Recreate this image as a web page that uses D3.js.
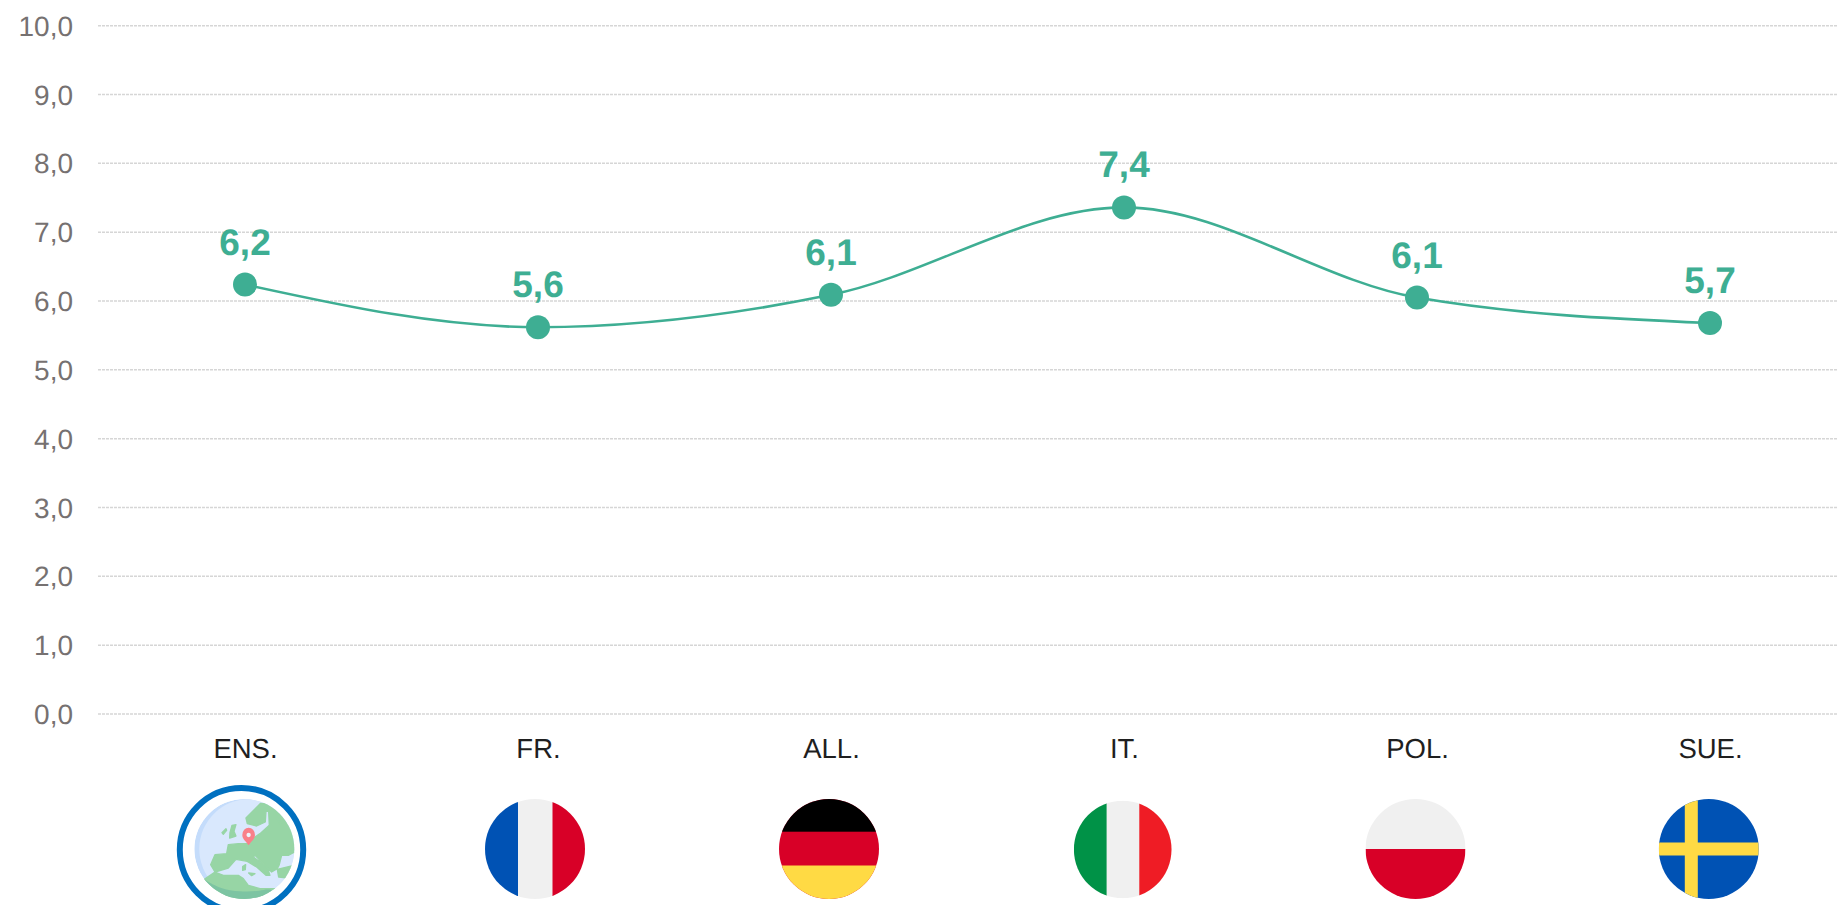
<!DOCTYPE html>
<html><head><meta charset="utf-8">
<script src="https://cdn.jsdelivr.net/npm/d3@7"></script>
<style>html,body{margin:0;padding:0;background:#fff;overflow:hidden}svg{display:block}text{font-family:"Liberation Sans",Arial,sans-serif;text-rendering:geometricPrecision}</style>
</head><body><svg id="c" width="1837" height="905"></svg>
<script>
const categories = ["ENS.","FR.","ALL.","IT.","POL.","SUE."];
const values = [6.24,5.62,6.09,7.36,6.05,5.68];
const valueLabels = ["6,2","5,6","6,1","7,4","6,1","5,7"];
const yTicks = [0,1,2,3,4,5,6,7,8,9,10];
const green = "#3eae93";

(function(){
const svg = d3.select("#c");
const W = 1837, plotLeft = 98, plotTop = 25.7, plotBottom = 714;
const x = d3.scalePoint().domain(categories).range([245,1710]);
const y = d3.scaleLinear().domain([0,10]).range([plotBottom,plotTop]);

// gridlines + y tick labels
const yAxis = d3.axisLeft(y).tickValues(yTicks).tickSize(0).tickPadding(0)
  .tickFormat(d => d3.format(".1f")(d).replace(".",","));
const gy = svg.append("g").attr("transform",`translate(73,0)`).call(yAxis);
gy.select(".domain").remove();
gy.selectAll("text").attr("font-size",28).attr("fill","#767171")
  .style("font-family",'"Liberation Sans",Arial,sans-serif').attr("dy","0.34em");
svg.append("g").selectAll("line").data(yTicks).join("line")
  .attr("x1",plotLeft).attr("x2",W).attr("y1",d=>y(d)).attr("y2",d=>y(d))
  .attr("stroke","#d6d6d6").attr("stroke-width",1.5).attr("stroke-dasharray","3 1");

// line
const line = d3.line().x((d,i)=>x(categories[i])).y(d=>y(d)).curve(d3.curveMonotoneX);
svg.append("path").attr("d",line(values)).attr("fill","none").attr("stroke",green).attr("stroke-width",2.6);
svg.append("g").selectAll("circle").data(values).join("circle")
  .attr("cx",(d,i)=>x(categories[i])).attr("cy",d=>y(d)).attr("r",12).attr("fill",green);
svg.append("g").selectAll("text").data(values).join("text")
  .attr("x",(d,i)=>x(categories[i])).attr("y",d=>y(d)-30)
  .attr("text-anchor","middle").attr("font-size",37).attr("font-weight","bold").attr("fill",green)
  .text((d,i)=>valueLabels[i]);

// category labels
const xAxis = d3.axisBottom(x).tickSize(0).tickPadding(0);
const gx = svg.append("g").attr("transform","translate(0,738)").call(xAxis);
gx.select(".domain").remove();
gx.selectAll("text").attr("font-size",27.5).attr("fill","#1f1f1f")
  .style("font-family",'"Liberation Sans",Arial,sans-serif').attr("dy","0.71em");

// flags
const defs = svg.append("defs");
function flag(id,cx,cy,r,draw){
  defs.append("clipPath").attr("id",id).append("circle").attr("cx",cx).attr("cy",cy).attr("r",r);
  const g = svg.append("g").attr("clip-path",`url(#${id})`);
  const rect=(fx,fy,fw,fh,c)=>g.append("rect").attr("x",cx-r+fx*2*r).attr("y",cy-r+fy*2*r)
    .attr("width",fw*2*r).attr("height",fh*2*r).attr("fill",c);
  draw(rect);
}
const FR_BLUE="#0052b4",RED="#d80027",WHITE="#f0f0f0",YEL="#ffda44";
flag("fr",535,849,50,r=>{r(0,0,1,1,WHITE);r(0,0,.33,1,FR_BLUE);r(.675,0,.33,1,RED);});
flag("de",829,849,50,r=>{r(0,0,1,1,RED);r(0,0,1,.327,"#000");r(0,.665,1,.34,YEL);});
flag("it",1122.7,849.5,48.8,r=>{r(0,0,1,1,WHITE);r(0,0,.335,1,"#009247");r(.67,0,.335,1,"#ef1c25");});
flag("pl",1415.5,849,50,r=>{r(0,0,1,.5,WHITE);r(0,.5,1,.5,RED);});
flag("se",1708.8,849,50,r=>{r(0,0,1,1,FR_BLUE);r(.26,0,.13,1,YEL);r(0,.435,1,.13,YEL);});

// Europe globe + ring
svg.append("circle").attr("cx",241.5).attr("cy",849.7).attr("r",61.7).attr("fill","none").attr("stroke","#0070c0").attr("stroke-width",6);
defs.append("clipPath").attr("id","gl").append("circle").attr("cx",0).attr("cy",0).attr("r",150);
const glob = svg.append("g").attr("transform","translate(244.3,849) scale(0.3333)").append("g").attr("clip-path","url(#gl)");
glob.append("circle").attr("r",150).attr("fill","#c4dcfb");
glob.append("circle").attr("cx",15).attr("r",150).attr("fill","#d9e8fd");
const P=(pts,fill)=>glob.append("path").attr("fill",fill).attr("stroke",fill).attr("stroke-width",4).attr("stroke-linejoin","round")
  .attr("d",d3.line().curve(d3.curveLinearClosed)(pts.map(p=>[p[0]-253,p[1]-221])));
const LAND="#97d5a5";
P([[302,84],[258,128],[262,145],[290,152],[316,140],[318,108],[326,108],[328,150],[300,175],[285,185],[270,205],[235,205],[205,208],[200,235],[165,238],[152,268],[165,290],[205,278],[228,252],[262,258],[290,275],[318,300],[330,300],[322,275],[280,245],[285,240],[335,290],[352,280],[358,268],[365,240],[385,240],[400,232],[420,232],[420,150],[380,90]],LAND);
P([[352,282],[395,272],[420,270],[420,312],[356,305]],LAND);
P([[100,340],[133,312],[165,290],[190,300],[235,300],[250,310],[265,330],[300,340],[345,340],[345,400],[100,400]],LAND);
P([[186,172],[198,160],[200,165],[190,177]],LAND);
P([[216,150],[228,148],[222,168],[228,182],[209,188],[210,172]],LAND);
P([[248,274],[257,268],[256,283],[248,285]],LAND);
P([[266,293],[285,295],[275,301]],LAND);
P([[352,133],[358,132],[365,143],[360,146]],LAND);
glob.append("path").attr("fill","#7cc4a2").attr("d",d3.line().curve(d3.curveBasis)([[133,312],[180,340],[240,350],[300,348],[345,335],[345,400],[100,400],[133,312]].map(p=>[p[0]-253,p[1]-221])));
const pin = glob.append("g").attr("transform",`translate(${266-253},${183-221})`);
pin.append("path").attr("fill","#f9808a").attr("d","M0,27 C-8,15 -19,8 -19,-4 A19,22 0 1 1 19,-4 C19,8 8,15 0,27Z");
pin.append("circle").attr("cy",-4).attr("r",6.5).attr("fill","#eef3fd");
})();
</script></body></html>
